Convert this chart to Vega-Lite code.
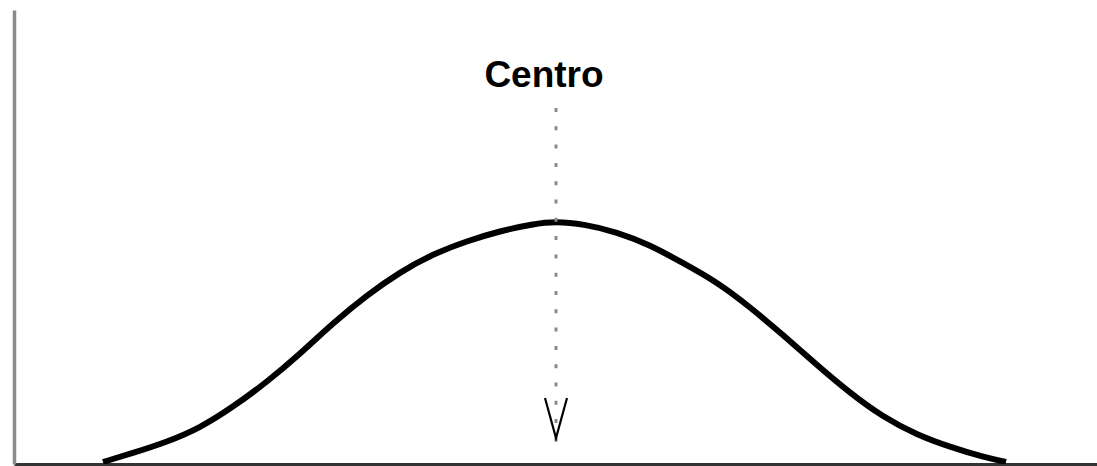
{
  "$schema": "https://vega.github.io/schema/vega-lite/v6.json",
  "width": 1083,
  "height": 454,
  "autosize": {"type": "none"},
  "padding": {"left": 14, "top": 10, "right": 0, "bottom": 2},
  "background": "white",
  "config": {"view": {"stroke": null}},
  "layer": [
    {
      "data": {"values": [
        {"x": -4.53, "y": 0.02},
        {"x": -4.23, "y": 0.11},
        {"x": -3.89, "y": 0.22},
        {"x": -3.56, "y": 0.36},
        {"x": -3.23, "y": 0.57},
        {"x": -2.89, "y": 0.82},
        {"x": -2.56, "y": 1.10},
        {"x": -2.23, "y": 1.41},
        {"x": -1.89, "y": 1.69},
        {"x": -1.56, "y": 1.92},
        {"x": -1.23, "y": 2.10},
        {"x": -0.89, "y": 2.23},
        {"x": -0.56, "y": 2.33},
        {"x": -0.23, "y": 2.40},
        {"x": 0, "y": 2.425},
        {"x": 0.27, "y": 2.40},
        {"x": 0.61, "y": 2.32},
        {"x": 0.94, "y": 2.19},
        {"x": 1.27, "y": 2.01},
        {"x": 1.61, "y": 1.82},
        {"x": 1.94, "y": 1.57},
        {"x": 2.27, "y": 1.29},
        {"x": 2.61, "y": 0.99},
        {"x": 2.94, "y": 0.71},
        {"x": 3.27, "y": 0.47},
        {"x": 3.61, "y": 0.29},
        {"x": 3.94, "y": 0.17},
        {"x": 4.27, "y": 0.07},
        {"x": 4.50, "y": 0.02}
      ]},
      "mark": {"type": "line", "color": "black", "strokeWidth": 6, "interpolate": "basis", "strokeCap": "butt", "clip": true},
      "encoding": {
        "x": {"field": "x", "type": "quantitative", "scale": {"domain": [-5.42, 5.41], "nice": false, "zero": false},
              "axis": {"labels": false, "ticks": false, "grid": false, "title": null, "domainColor": "#333333", "domainWidth": 3}},
        "y": {"field": "y", "type": "quantitative", "scale": {"domain": [0, 4.54], "nice": false},
              "axis": {"labels": false, "ticks": false, "grid": false, "title": null, "domainColor": "#8c8c8c", "domainWidth": 3.5}}
      }
    },
    {
      "data": {"values": [{"x": 0, "top": 3.56, "bottom": 0.17}]},
      "mark": {"type": "rule", "color": "#8a8a8a", "strokeWidth": 3, "strokeDash": [4, 14.3]},
      "encoding": {
        "x": {"field": "x", "type": "quantitative"},
        "y": {"field": "top", "type": "quantitative"},
        "y2": {"field": "bottom"}
      }
    },
    {
      "data": {"values": [{"x": 0, "y": 0.46}]},
      "mark": {"type": "point", "shape": "M -0.55 -1 L 0 1 L 0.55 -1", "filled": false, "size": 1600, "color": "black", "strokeWidth": 2.2, "opacity": 1},
      "encoding": {
        "x": {"field": "x", "type": "quantitative"},
        "y": {"field": "y", "type": "quantitative"}
      }
    },
    {
      "data": {"values": [{"x": -0.12, "y": 3.77, "label": "Centro"}]},
      "mark": {"type": "text", "font": "Liberation Sans", "fontSize": 37, "fontWeight": "bold", "align": "center", "baseline": "alphabetic", "color": "black"},
      "encoding": {
        "x": {"field": "x", "type": "quantitative"},
        "y": {"field": "y", "type": "quantitative"},
        "text": {"field": "label"}
      }
    }
  ]
}
